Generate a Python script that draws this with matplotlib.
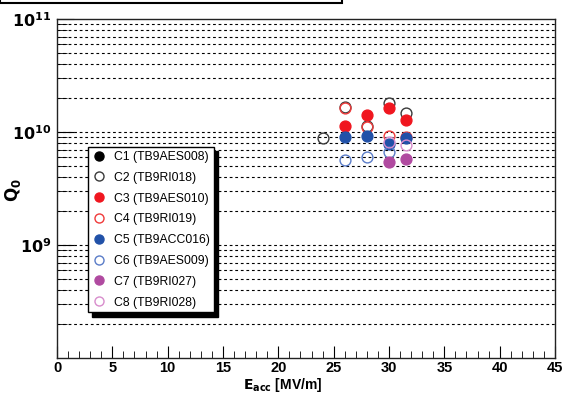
import numpy as np
import matplotlib.pyplot as plt
from matplotlib.lines import Line2D
from matplotlib.patches import Rectangle
from matplotlib.ticker import FixedLocator, NullFormatter

plt.rcParams['font.family'] = ['Liberation Sans', 'DejaVu Sans']

# cavities and their measurements (E_acc in MV/m, Q0)
labels = ['C1 (TB9AES008)', 'C2 (TB9RI018)', 'C3 (TB9AES010)', 'C4 (TB9RI019)',
          'C5 (TB9ACC016)', 'C6 (TB9AES009)', 'C7 (TB9RI027)', 'C8 (TB9RI028)']
colors = ['#000000', '#3a3a3a', '#f0161f', '#f03a3a',
          '#2151a8', '#5a7cc8', '#b04aa0', '#d88ccc']
filled = [True, False, True, False, True, False, True, False]

e_acc = [
    [],
    [24, 26, 28, 30, 31.5],
    [26, 28, 30, 31.5],
    [26, 28, 30, 31.5],
    [26, 28, 30, 31.5],
    [26, 28, 30],
    [30, 31.5],
    [30, 31.5],
]
q0 = [
    [],
    [8.85e9, 1.65e10, 1.14e10, 1.81e10, 1.47e10],
    [1.12e10, 1.42e10, 1.63e10, 1.28e10],
    [1.62e10, 1.10e10, 9.3e9, 9.1e9],
    [9.0e9, 9.2e9, 7.8e9, 8.85e9],
    [5.6e9, 6.0e9, 6.7e9],
    [5.4e9, 5.8e9],
    [8.2e9, 7.7e9],
]

fig = plt.figure(figsize=(5.65, 3.93), dpi=100)
ax = fig.add_axes([57 / 565, 1 - 358 / 393, (555 - 57) / 565, (358 - 19) / 393])

ax.set_xlim(0, 45)
ax.set_yscale('log')
ax.set_ylim(1e8, 1e11)

# dashed grid on every y tick
for dec in [1e8, 1e9, 1e10]:
    for m in range(1, 10):
        v = dec * m
        if 1e8 < v < 1e11:
            ax.axhline(v, color='black', lw=0.8, ls=(0, (2.5, 2.5)), zorder=1)

for i in range(len(labels)):
    if filled[i]:
        ax.plot(e_acc[i], q0[i], 'o', ms=7.8, mfc=colors[i], mec=colors[i],
                ls='none', zorder=3)
    else:
        ax.plot(e_acc[i], q0[i], 'o', ms=7.8, mfc='none', mec=colors[i],
                mew=1.0, ls='none', zorder=3)

ax.yaxis.set_major_locator(FixedLocator([1e9, 1e10, 1e11]))
ax.set_yticklabels([r'$\mathbf{10^{9}}$', r'$\mathbf{10^{10}}$', r'$\mathbf{10^{11}}$'])
ax.yaxis.set_minor_locator(FixedLocator([m * d for d in [1e8, 1e9, 1e10] for m in range(2, 10)]))
ax.yaxis.set_minor_formatter(NullFormatter())
ax.set_xticks(np.arange(0, 46, 5))
ax.set_xticks(np.arange(0, 46, 1), minor=True)

ax.tick_params(axis='both', which='both', direction='in', top=False, right=False)
ax.tick_params(axis='y', which='major', length=12, labelsize=11.5, pad=4)
ax.tick_params(axis='y', which='minor', length=7)
ax.tick_params(axis='x', which='major', length=9, labelsize=10.5, pad=2.5)
ax.tick_params(axis='x', which='minor', length=5)
for lab in ax.get_xticklabels():
    lab.set_fontweight('bold')
for s in ax.spines.values():
    s.set_linewidth(1.0)
    s.set_color('#222222')

fig.text(283 / 565, 1 - 388.5 / 393, r'$\mathbf{E_{acc}}$ [MV/m]', fontsize=10,
         fontweight='bold', ha='center', va='baseline')
fig.text(13 / 565, 1 - 190 / 393, r'$\mathbf{Q_{0}}$', fontsize=12,
         rotation=90, ha='center', va='center')

# legend with shadow box
handles = []
for i in range(len(labels)):
    handles.append(Line2D([], [], marker='o', ls='none', ms=6.5,
                          mfc=colors[i] if filled[i] else 'none', mec=colors[i]))
leg = ax.legend(handles, labels, loc='upper left',
                bbox_to_anchor=((88 - 57) / 498, (358 - 147) / 339),
                borderaxespad=0, frameon=True, fancybox=False,
                shadow={'color': 'black', 'alpha': 1, 'ox': 3, 'oy': -3},
                fontsize=8.8, handletextpad=0.6, labelspacing=0.72,
                borderpad=0.32, handlelength=1.2)
leg.get_frame().set_edgecolor('black')
leg.get_frame().set_linewidth(1.0)
leg.set_zorder(5)

# cut-off title pave at the top
fig.patches.append(Rectangle((0, 1 - 3 / 393), 342 / 565, 0.05,
                             transform=fig.transFigure, fill=False,
                             edgecolor='black', lw=1.5))

fig.savefig('out.png', dpi=100)
